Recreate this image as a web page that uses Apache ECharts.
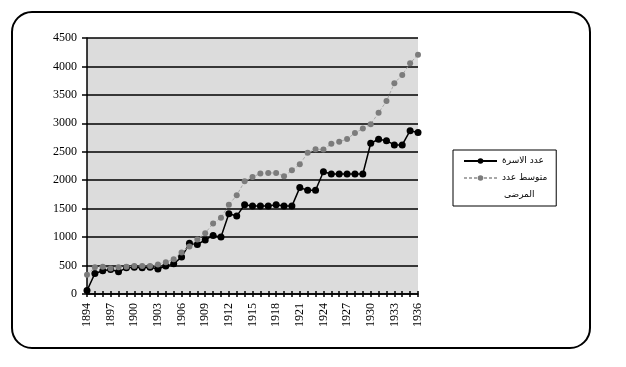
<!DOCTYPE html>
<html>
<head>
<meta charset="utf-8">
<script src="https://cdn.jsdelivr.net/npm/echarts@6/dist/echarts.min.js"></script>
<style>
html,body{margin:0;padding:0;background:#fff;}
#chart{width:626px;height:367px;}
</style>
</head>
<body>
<div id="chart"></div>
<script>
var years = ['1894','1895','1896','1897','1898','1899','1900','1901','1902','1903','1904','1905','1906','1907','1908','1909','1910','1911','1912','1913','1914','1915','1916','1917','1918','1919','1920','1921','1922','1923','1924','1925','1926','1927','1928','1929','1930','1931','1932','1933','1934','1935','1936'];
var families = [60,360,410,430,390,460,470,460,470,440,490,530,650,890,870,950,1030,1000,1410,1370,1570,1545,1545,1545,1570,1545,1545,1870,1825,1825,2150,2110,2110,2110,2110,2110,2650,2720,2695,2620,2620,2870,2840];
var patients = [340,470,480,450,470,480,490,490,490,520,560,610,730,835,960,1070,1240,1340,1570,1735,1980,2058,2117,2128,2128,2070,2175,2281,2481,2546,2540,2640,2675,2725,2830,2911,2985,3186,3392,3705,3851,4057,4204];
var seriesNames = ['عدد الاسرة', 'متوسط عدد المرضى'];
var legendLines = {'عدد الاسرة': 'عدد الاسرة', 'متوسط عدد المرضى': 'متوسط عدد'};
var legendExtraLine = 'المرضى';

var chart = echarts.init(document.getElementById('chart'), null, {renderer: 'canvas'});
var serif = 'Liberation Serif';
chart.setOption({
  animation: false,
  backgroundColor: '#fff',
  graphic: [
    {type: 'rect', z: 0, shape: {x: 12, y: 12, width: 578, height: 336, r: 20},
     style: {fill: 'none', stroke: '#000', lineWidth: 2}},
    {type: 'text', z: 10, left: 504, top: 190,
     style: {text: legendExtraLine, font: '9px "DejaVu Sans"', fill: '#000'}}
  ],
  grid: {left: 87, right: 208, top: 38, bottom: 73, show: true, backgroundColor: '#dcdcdc', borderWidth: 0},
  legend: {
    orient: 'vertical', left: 453, top: 150,
    backgroundColor: '#fff', borderColor: '#000', borderWidth: 1,
    padding: [6, 9, 23, 10],
    itemWidth: 33, itemHeight: 7, itemGap: 7,
    data: seriesNames,
    formatter: function (n) { return legendLines[n]; },
    textStyle: {fontFamily: 'DejaVu Sans', fontSize: 9, color: '#000', lineHeight: 10}
  },
  xAxis: [{
    type: 'category', data: years, boundaryGap: false,
    axisLine: {lineStyle: {color: '#000', width: 1.5}},
    axisTick: {show: true, interval: 0, length: 3, lineStyle: {color: '#000', width: 1.5}},
    axisLabel: {interval: 2, rotate: 90, margin: 9, fontFamily: serif, fontSize: 12, color: '#000'},
    splitLine: {show: false}
  }, {
    type: 'category', data: years, boundaryGap: false, position: 'bottom',
    axisLine: {show: false},
    axisTick: {show: true, inside: true, interval: 0, length: 3, lineStyle: {color: '#000', width: 1.5}},
    axisLabel: {show: false},
    splitLine: {show: false}
  }],
  yAxis: {
    type: 'value', min: 0, max: 4500, interval: 500,
    axisLine: {show: true, lineStyle: {color: '#000', width: 1.5}},
    axisTick: {show: true, length: 5, lineStyle: {color: '#000', width: 1.5}},
    axisLabel: {margin: 10, fontFamily: serif, fontSize: 12, color: '#000', formatter: function (v) { return String(v); }},
    splitLine: {show: true, lineStyle: {color: '#000', width: 1.5}}
  },
  series: [{
    name: seriesNames[0], type: 'line', data: families, xAxisIndex: 0,
    symbol: 'circle', symbolSize: 7, showAllSymbol: true,
    itemStyle: {color: '#000'},
    lineStyle: {color: '#000', width: 1.5}
  }, {
    name: seriesNames[1], type: 'line', data: patients, xAxisIndex: 0,
    symbol: 'circle', symbolSize: 6, showAllSymbol: true,
    itemStyle: {color: '#7c7c7c'},
    lineStyle: {color: '#a8a8a8', width: 1, type: [3, 2]}
  }]
});
</script>
</body>
</html>
